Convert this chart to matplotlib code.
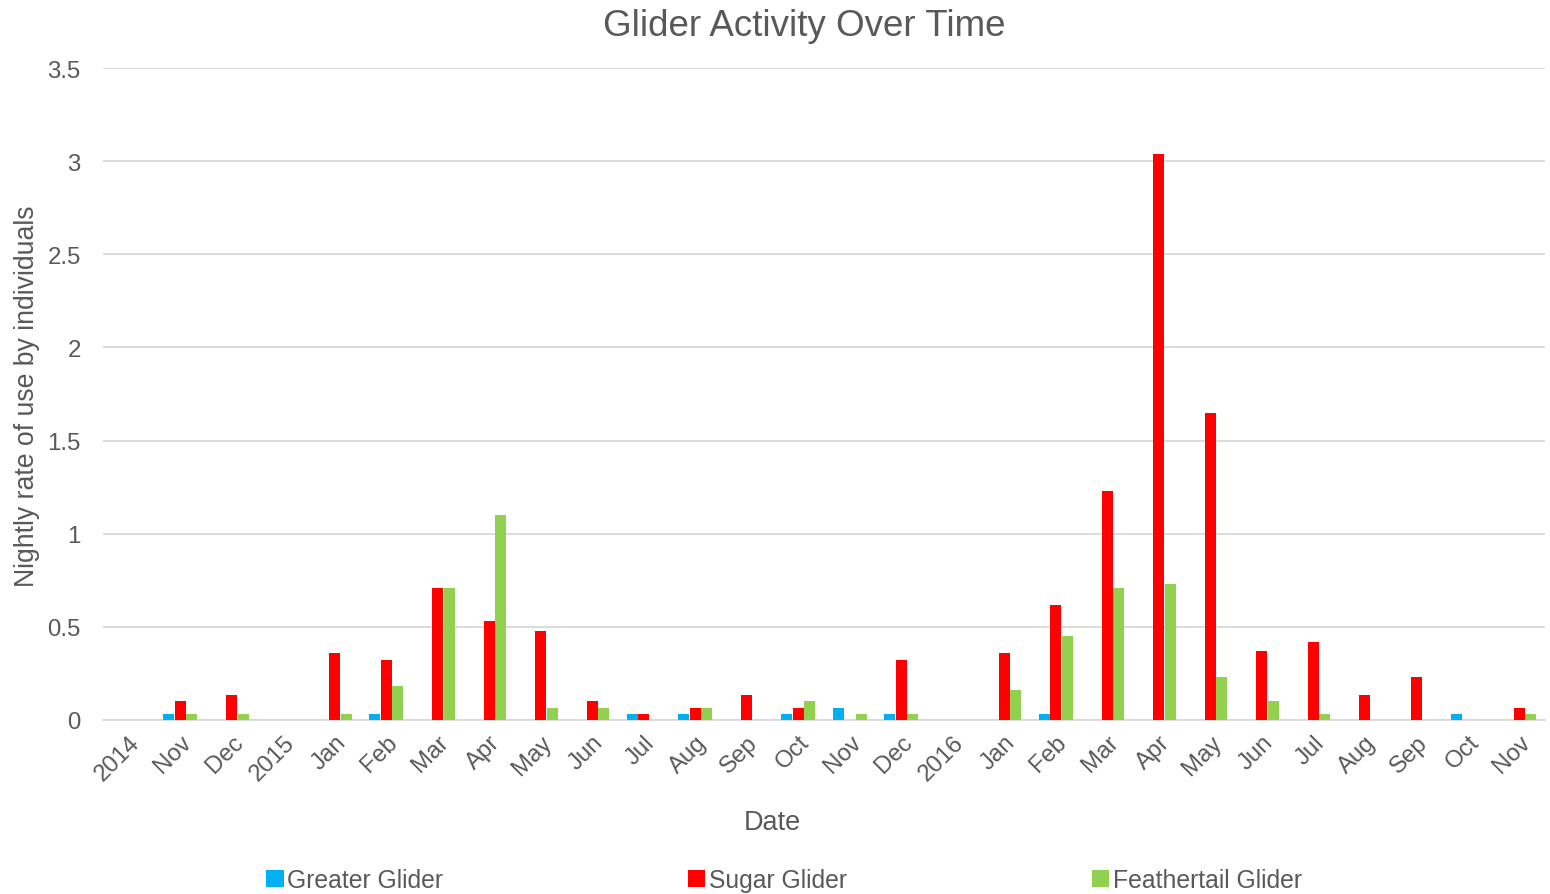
import matplotlib
matplotlib.use("Agg")
import matplotlib.pyplot as plt
import numpy as np

categories = ["2014", "Nov", "Dec", "2015", "Jan", "Feb", "Mar", "Apr", "May", "Jun",
              "Jul", "Aug", "Sep", "Oct", "Nov", "Dec", "2016", "Jan", "Feb", "Mar",
              "Apr", "May", "Jun", "Jul", "Aug", "Sep", "Oct", "Nov"]
greater = [0, 0.033, 0, 0, 0, 0.033, 0, 0, 0, 0,
           0.033, 0.033, 0, 0.033, 0.067, 0.033, 0, 0, 0.033, 0,
           0, 0, 0, 0, 0, 0, 0.033, 0]
sugar = [0, 0.1, 0.133, 0, 0.36, 0.32, 0.71, 0.53, 0.48, 0.1,
         0.033, 0.067, 0.133, 0.067, 0, 0.32, 0, 0.36, 0.62, 1.23,
         3.04, 1.65, 0.37, 0.42, 0.133, 0.233, 0, 0.067]
feather = [0, 0.033, 0.033, 0, 0.033, 0.18, 0.71, 1.1, 0.067, 0.067,
           0, 0.067, 0, 0.1, 0.033, 0.033, 0, 0.16, 0.45, 0.71,
           0.73, 0.23, 0.1, 0.033, 0, 0, 0, 0.033]
series_names = ["Greater Glider", "Sugar Glider", "Feathertail Glider"]
colors = ["#00b0f0", "#ff0000", "#92d050"]

plt.rcParams['font.family'] = ['Liberation Sans', 'DejaVu Sans']
txt = "#595959"

fig = plt.figure(figsize=(15.5, 8.95), dpi=100)
ax = fig.add_axes([103/1550, 1-721/895, (1545-103)/1550, (721-69)/895])

x = np.arange(len(categories))
w = 0.215
for i, (vals, name, c) in enumerate(zip([greater, sugar, feather], series_names, colors)):
    ax.bar(x + (i-1)*(w+0.01), vals, width=w, color=c, label=name, zorder=3)

ax.set_xlim(-0.5, len(categories)-0.5)
ax.set_ylim(0, 3.5)
ax.set_yticks([0, 0.5, 1, 1.5, 2, 2.5, 3, 3.5])
ax.set_yticklabels(["0", "0.5", "1", "1.5", "2", "2.5", "3", "3.5"])
ax.yaxis.grid(True, color="#d9d9d9", linewidth=1.3, zorder=0)
ax.set_axisbelow(True)
for s in ["top", "right", "left"]:
    ax.spines[s].set_visible(False)
ax.spines["bottom"].set_color("#d9d9d9")
ax.spines["bottom"].set_linewidth(1.3)
ax.tick_params(axis="both", length=0, labelsize=17.3, colors=txt)
ax.tick_params(axis="y", pad=16)
ax.set_xticks(x)
ax.set_xticklabels(categories, rotation=45, ha="right", rotation_mode="anchor")
ax.tick_params(axis="x", pad=8)

fig.text(804/1550, 1-26/895, "Glider Activity Over Time", fontsize=26.5, color=txt,
         ha="center", va="center")
fig.text(772/1550, 1-823/895, "Date", fontsize=19.5, color=txt, ha="center", va="center")
fig.text(27/1550, 1-396/895, "Nightly rate of use by individuals", fontsize=19.2, color=txt,
         ha="center", va="center", rotation=90)

leg = fig.legend(loc="center", bbox_to_anchor=(0.5058, 1-881/895), ncol=3, frameon=False,
                 fontsize=17.8, handlelength=0.7, handleheight=0.7, handletextpad=0.15,
                 columnspacing=9.9, labelcolor=txt)

fig.savefig("out.png", dpi=100)
